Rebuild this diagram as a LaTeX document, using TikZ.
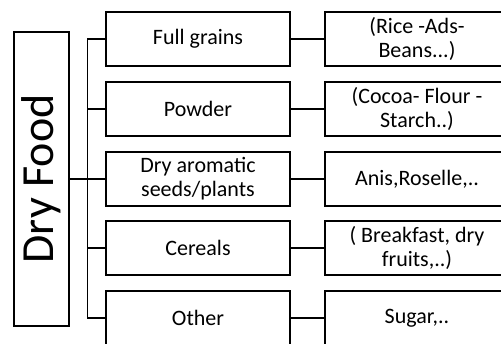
\documentclass[tikz,border=0pt]{standalone}
\usepackage{fontspec}
\setmainfont{Carlito}
\tikzset{
  box/.style={draw, line width=1.5pt, minimum width=184pt, minimum height=54pt,
    inner sep=2pt, align=center, font=\fontsize{22}{24}\selectfont},
  link/.style={line width=1.5pt}
}
\begin{document}
\begin{tikzpicture}[x=1pt,y=-1pt]
                \clip (0,0) rectangle (501,343);
                \node[draw, line width=1.5pt, minimum width=294pt, minimum height=55pt,
                  rotate=90, font=\fontsize{46}{50}\selectfont] (root) at (41.5,179) {Dry Food};
                \node[box] (c1) at (198, 39) {Full grains};
                \node[box] (c2) at (198,109) {Powder};
                \node[box] (c3) at (198,179) {Dry aromatic\\seeds/plants};
                \node[box] (c4) at (198,248) {Cereals};
                \node[box] (c5) at (198,318) {Other};
                \node[box] (e1) at (417, 39) {(Rice -Ads-\\Beans...)};
                \node[box] (e2) at (417,109) {(Cocoa- Flour -\\Starch..)};
                \node[box] (e3) at (417,179) {Anis,Roselle,..};
                \node[box] (e4) at (417,248) {( Breakfast, dry\\fruits,..)};
                \node[box] (e5) at (417,318) {Sugar,..};
                \draw[link] (root.south) -- (c3.west);
                \draw[link] (c1.west) -- ++(-18,0) |- (c5.west);
                \draw[link] (c2.west) -- ++(-18,0);
                \draw[link] (c4.west) -- ++(-18,0);
                \foreach \i in {1,...,5}
                  \draw[link] (c\i.east) -- (e\i.west);
            \end{tikzpicture}
\end{document}
